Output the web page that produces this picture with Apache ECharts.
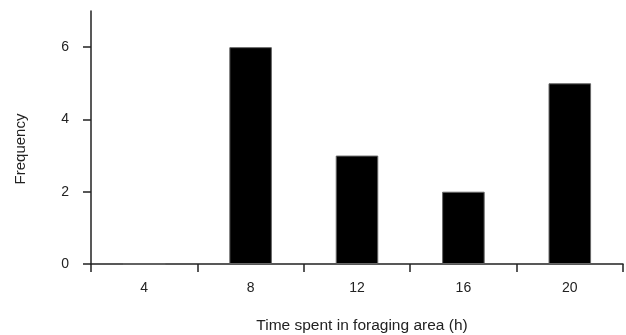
<!DOCTYPE html>
<html>
<head>
<meta charset="utf-8">
<script src="https://cdn.jsdelivr.net/npm/echarts@6/dist/echarts.min.js"></script>
<style>
  html, body { margin: 0; padding: 0; background: #fff; }
  #chart { width: 626px; height: 335px; }
</style>
</head>
<body>
<div id="chart"></div>
<script>
const hours = ['4', '8', '12', '16', '20']
const frequency = [0, 6, 3, 2, 5]
const yTicks = [0, 2, 4, 6]

const chart = echarts.init(document.getElementById('chart'))
const axisColor = '#222'
const font = 'Liberation Sans, Arial, sans-serif'

chart.setOption({
  backgroundColor: '#fff',
  animation: false,
  grid: { left: 91, right: 3, top: 11, bottom: 71, outerBoundsMode: 'none', containLabel: false },
  xAxis: {
    type: 'category',
    data: hours,
    name: 'Time spent in foraging area (h)',
    nameLocation: 'middle',
    nameGap: 54,
    nameTextStyle: { color: '#222', fontSize: 15.5, fontFamily: font, padding: [0, 0, 0, 10] },
    axisLine: { lineStyle: { color: axisColor, width: 1.5 } },
    axisTick: { show: true, length: 8, lineStyle: { color: axisColor, width: 1.5 } },
    axisLabel: { color: '#222', fontSize: 14, fontFamily: font, margin: 17 },
  },
  yAxis: {
    type: 'value',
    min: 0,
    max: 7,
    interval: 1,
    name: 'Frequency',
    nameLocation: 'middle',
    nameGap: 63,
    nameTextStyle: { color: '#222', fontSize: 15, fontFamily: font, padding: [0, 23, 0, 0] },
    splitLine: { show: false },
    axisLine: { show: true, lineStyle: { color: axisColor, width: 1.5 } },
    axisTick: { show: true, length: 8, customValues: yTicks, lineStyle: { color: axisColor, width: 1.5 } },
    axisLabel: { color: '#222', fontSize: 14, fontFamily: font, margin: 22, customValues: yTicks },
  },
  series: [
    {
      type: 'bar',
      data: frequency,
      barWidth: '40%',
      itemStyle: { color: '#000', borderColor: '#666', borderWidth: 1 },
    },
  ],
})
</script>
</body>
</html>
